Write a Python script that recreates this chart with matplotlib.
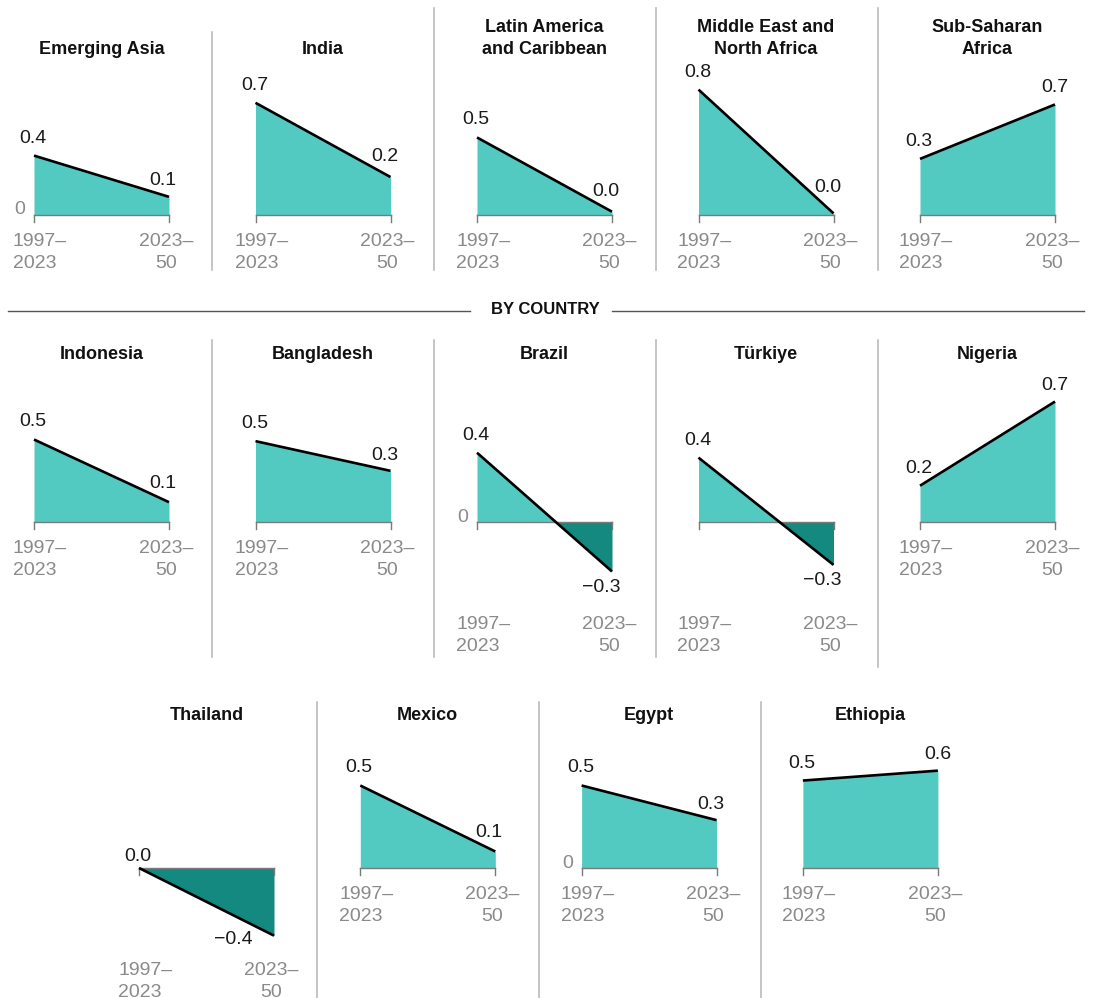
import matplotlib.pyplot as plt
from matplotlib.lines import Line2D

# values: 1997-2023 vs 2023-50
regions = ["Emerging Asia", "India", "Latin America\nand Caribbean",
           "Middle East and\nNorth Africa", "Sub-Saharan\nAfrica"]
regions_start = [0.36, 0.68, 0.47, 0.76, 0.34]
regions_end = [0.11, 0.23, 0.02, 0.01, 0.67]

countries_a = ["Indonesia", "Bangladesh", "Brazil", "Türkiye", "Nigeria"]
countries_a_start = [0.50, 0.49, 0.42, 0.39, 0.22]
countries_a_end = [0.12, 0.31, -0.30, -0.26, 0.73]

countries_b = ["Thailand", "Mexico", "Egypt", "Ethiopia"]
countries_b_start = [0.0, 0.50, 0.50, 0.53]
countries_b_end = [-0.41, 0.10, 0.29, 0.59]

period_labels = ["1997–\n2023", "2023–\n50"]
zero_label_panels = ["Emerging Asia", "Brazil", "Egypt"]

W, H = 1104, 998
SCALE = 165  # pixels per unit
POS = "#52c9c1"
NEG = "#13897f"
GREY = "#8a8a8a"
SEP = "#b5b5b5"
FONT = "Liberation Sans"

plt.rcParams["font.family"] = [FONT, "DejaVu Sans"]

fig = plt.figure(figsize=(W / 100, H / 100), dpi=100)


def fx(x):
    return x / W


def fy(y):
    return 1 - y / H


def vline(x, y0, y1):
    fig.add_artist(Line2D([fx(x), fx(x)], [fy(y0), fy(y1)], color=SEP, lw=1.1))


def panel(title, v0, v1, x0, base, title_bottom, width=135):
    ax = fig.add_axes([fx(x0), fy(base + 0.5 * SCALE), width / W, 1.4 * SCALE / H])
    ax.set_xlim(0, 1)
    ax.set_ylim(-0.5, 0.9)
    ax.axis("off")

    xs = [0, 1]
    ys = [v0, v1]
    if v0 * v1 < 0:
        xc = v0 / (v0 - v1)
        c0, c1 = (POS, NEG) if v0 > 0 else (NEG, POS)
        ax.fill_between([0, xc], [v0, 0], 0, color=c0, lw=0, clip_on=False)
        ax.fill_between([xc, 1], [0, v1], 0, color=c1, lw=0, clip_on=False)
    else:
        col = NEG if min(ys) < 0 else POS
        ax.fill_between(xs, ys, 0, color=col, lw=0, clip_on=False)

    tick = 7 / SCALE
    ax.plot([0, 1], [0, 0], color="#7a7a7a", lw=1, clip_on=False, zorder=2)
    ax.plot([0, 0], [0, -tick], color="#7a7a7a", lw=1, clip_on=False)
    ax.plot([1, 1], [0, -tick], color="#7a7a7a", lw=1, clip_on=False)
    ax.plot(xs, ys, color="black", lw=1.9, clip_on=False, zorder=3,
            solid_capstyle="butt")

    lab = dict(fontsize=14, color="#1a1a1a", textcoords="offset pixels")
    # start value
    off0 = 3 if (v0 == 0 and v1 < 0) else 9
    ax.annotate(f"{v0:.1f}", (0, v0), xytext=(-1, off0), ha="center", va="bottom", **lab)
    # end value
    end_txt = f"{v1:.1f}".replace("-", "−")
    if v1 < 0 and v0 <= 0:
        ax.annotate(end_txt, (1, v1), xytext=(-21, -4), ha="right", va="center", **lab)
    elif v1 < 0:
        ax.annotate(end_txt, (1, v1), xytext=(-11, -7), ha="center", va="top", **lab)
    elif v1 >= v0:
        ax.annotate(end_txt, (1, v1), xytext=(0, 8), ha="center", va="bottom", **lab)
    else:
        drop = (v0 - v1) * SCALE
        ax.annotate(end_txt, (1, v1), xytext=(-6, 3 + 0.12 * drop), ha="center",
                    va="bottom", **lab)

    if title in zero_label_panels:
        ax.annotate("0", (0, 0), xytext=(-14, 5), ha="center", va="center",
                    fontsize=14, color=GREY, textcoords="offset pixels")

    drop_ticks = 94 if min(ys) < 0 else 18
    tk = dict(fontsize=14, color=GREY, textcoords="offset pixels", va="top",
              linespacing=1.35)
    ax.annotate(period_labels[0], (0, 0), xytext=(-21, -drop_ticks), ha="left",
                multialignment="left", **tk)
    ax.annotate(period_labels[1], (1, 0), xytext=(-3, -drop_ticks), ha="center",
                multialignment="center", **tk)

    fig.text(fx(x0 + width / 2), fy(title_bottom), title, ha="center", va="bottom",
             fontsize=13, fontweight="bold", color="#111111", linespacing=1.35)


# row 1: regions
for i, (name, a, b) in enumerate(zip(regions, regions_start, regions_end)):
    panel(name, a, b, 34 + 221.5 * i, 215, 58)

# header
fig.text(fx(545), fy(310), "BY COUNTRY", ha="center", va="center", fontsize=12,
         fontweight="bold", color="#111111")
fig.add_artist(Line2D([fx(8), fx(470)], [fy(311), fy(311)], color="#555555", lw=1))
fig.add_artist(Line2D([fx(612), fx(1084)], [fy(311), fy(311)], color="#555555", lw=1))

# row 2
for i, (name, a, b) in enumerate(zip(countries_a, countries_a_start, countries_a_end)):
    panel(name, a, b, 34 + 221.5 * i, 522, 363)

# row 3
for i, (name, a, b) in enumerate(zip(countries_b, countries_b_start, countries_b_end)):
    panel(name, a, b, 139 + 221.3 * i, 868, 724)

# separators
vline(212, 32, 270)
for x in (434, 656, 878):
    vline(x, 8, 270)
for x in (212, 434, 656):
    vline(x, 340, 657)
vline(878, 340, 667)
for x in (317, 539, 761):
    vline(x, 702, 998)

fig.savefig("out.png", dpi=100, facecolor="white")
